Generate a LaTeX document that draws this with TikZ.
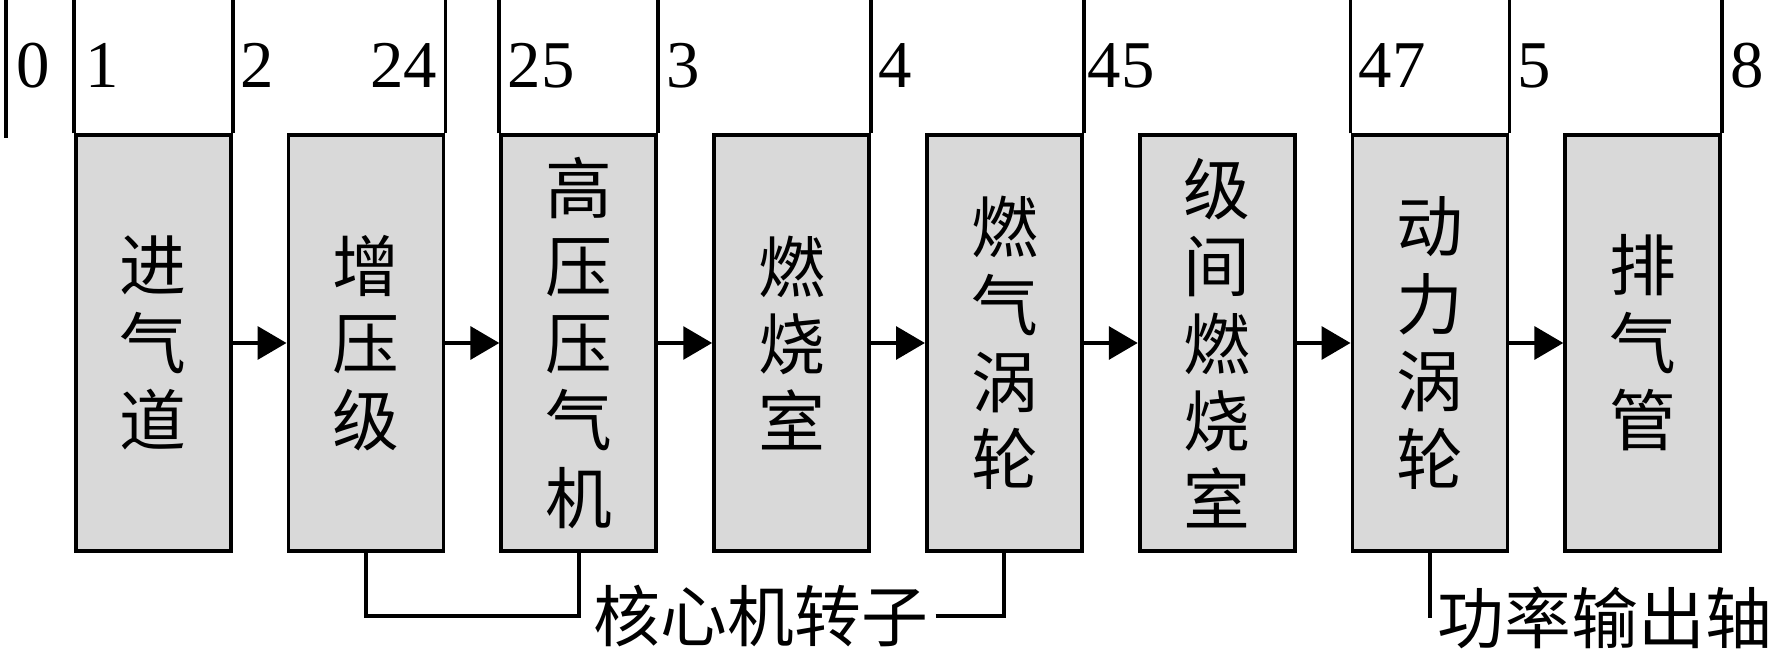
\documentclass[tikz,border=0pt]{standalone}
\usepackage{fontspec}
\setmainfont{Liberation Serif}
\newfontfamily\cjk{Noto Sans CJK SC}
\usetikzlibrary{positioning, arrows.meta}

\begin{document}
\begin{tikzpicture}[
    x=0.01cm, y=-0.01cm,
    % Engine component box style
    part/.style={
        rectangle,
        draw=black,
        line width=1.1pt,
        fill=black!15,
        minimum width=1.55cm,
        minimum height=4.15cm,
        inner sep=0pt,
        align=center,
        font=\cjk\fontsize{19}{22}\selectfont
    },
    % Station line style
    station/.style={
        line width=1.1pt,
        black
    },
    % Station number style
    num/.style={
        font=\fontsize{19}{22}\selectfont,
        inner sep=2pt
    },
    % Flow arrow style
    flow/.style={
        -{Triangle[length=8.2pt, width=9.3pt]},
        line width=1.1pt
    },
    % Shaft label style
    shaftlbl/.style={
        font=\cjk\fontsize{19}{22}\selectfont,
        inner sep=2pt
    }
]
\useasboundingbox (0,0) rectangle (1772,658);

% === Reference coordinates ===
\coordinate (top) at (0,0);
\coordinate (s0) at (6,138);
\coordinate (corey) at (0,616);

% === Components ===
\node[part] (b1) at (153.2, 343) {进\\气\\道};
\node[part] (b2) at (366.0, 343) {增\\压\\级};
\node[part] (b3) at (578.8, 343) {高\\压\\压\\气\\机};
\node[part] (b4) at (791.6, 343) {燃\\烧\\室};
\node[part] (b5) at (1004.4, 343) {燃\\气\\涡\\轮};
\node[part] (b6) at (1217.2, 343) {级\\间\\燃\\烧\\室};
\node[part] (b7) at (1430.0, 343) {动\\力\\涡\\轮};
\node[part] (b8) at (1642.8, 343) {排\\气\\管};

% === Flow arrows ===
\draw[flow] (b1) -- (b2);
\draw[flow] (b2) -- (b3);
\draw[flow] (b3) -- (b4);
\draw[flow] (b4) -- (b5);
\draw[flow] (b5) -- (b6);
\draw[flow] (b6) -- (b7);
\draw[flow] (b7) -- (b8);

% === Station lines ===
\draw[station] (s0) -- (s0 |- top);
\draw[station] (b1.north west) -- (b1.north west |- top);
\draw[station] (b1.north east) -- (b1.north east |- top);
\draw[station] (b2.north east) -- (b2.north east |- top);
\draw[station] (b3.north west) -- (b3.north west |- top);
\draw[station] (b3.north east) -- (b3.north east |- top);
\draw[station] (b4.north east) -- (b4.north east |- top);
\draw[station] (b5.north east) -- (b5.north east |- top);
\draw[station] (b7.north west) -- (b7.north west |- top);
\draw[station] (b7.north east) -- (b7.north east |- top);
\draw[station] (b8.north east) -- (b8.north east |- top);

% === Station numbers ===
\node[num, anchor=base west] (n0) at (9, 88) {0};
\node[num, anchor=base west] (n1) at (78, 88) {1};
\node[num, anchor=base west] (n2) at (233, 88) {2};
\node[num, anchor=base east] (n24) at (445, 88) {24};
\node[num, anchor=base west] (n25) at (500, 88) {25};
\node[num, anchor=base west] (n3) at (659, 88) {3};
\node[num, anchor=base west] (n4) at (871, 88) {4};
\node[num, anchor=base west] (n45) at (1080, 88) {45};
\node[num, anchor=base west] (n47) at (1351, 88) {47};
\node[num, anchor=base west] (n5) at (1510, 88) {5};
\node[num, anchor=base west] (n8) at (1723, 88) {8};

% === Shafts ===
\node[shaftlbl, anchor=west] (core) at (586, 616) {核心机转子};
\draw[station] (b2.south) -- (b2.south |- corey) -- (b3.south |- corey) -- (b3.south);
\draw[station] (core.east) -| (b5.south);

\node[shaftlbl, anchor=west] (shaft) at (1430, 618) {功率输出轴};
\draw[station] (b7.south) |- (shaft.west);

\end{tikzpicture}
\end{document}
